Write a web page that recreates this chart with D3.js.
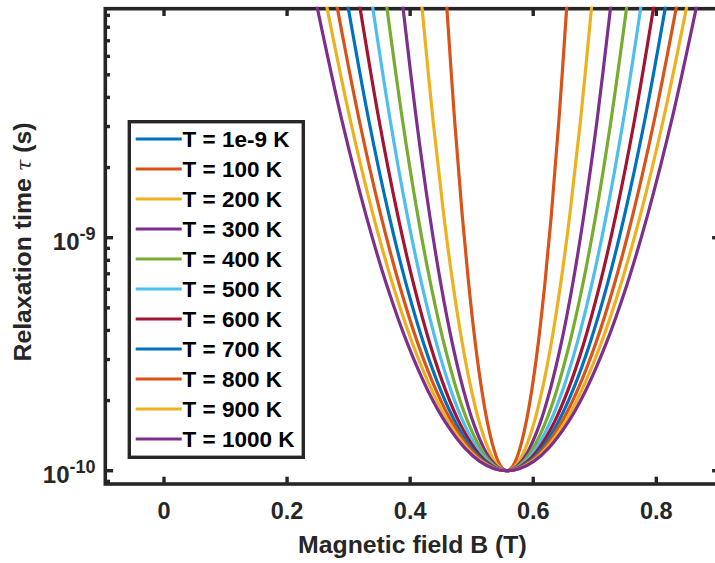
<!DOCTYPE html>
<html>
<head>
<meta charset="utf-8">
<script src="https://cdn.jsdelivr.net/npm/d3@7"></script>
<style>
  html, body { margin: 0; padding: 0; background: #ffffff; }
  svg { display: block; font-family: "Liberation Sans", Arial, Helvetica, sans-serif; }
</style>
</head>
<body>
<svg id="chart" width="715" height="563"></svg>
<script>
// Series: relaxation time vs. magnetic field for several temperatures
const temperatures = [1e-9, 100, 200, 300, 400, 500, 600, 700, 800, 900, 1000];
const legendLabels = ["T = 1e-9 K", "T = 100 K", "T = 200 K", "T = 300 K", "T = 400 K",
  "T = 500 K", "T = 600 K", "T = 700 K", "T = 800 K", "T = 900 K", "T = 1000 K"];
const seriesColors = ["#0072BD", "#D95319", "#EDB120", "#7E2F8E", "#77AC30", "#4DBEEE",
  "#A2142F", "#0072BD", "#D95319", "#EDB120", "#7E2F8E"];

// Field of the minimum (T)
const fieldAtMin = 0.557;
// Relaxation-time levels (s) at which each curve's width is given
const tauLevels = [1.0e-10, 1.02e-10, 1.1e-10, 1.25e-10, 1.6e-10, 2.2e-10,
  3.5e-10, 6.3e-10, 1.25e-9, 3.2e-9, 1.0e-8];
// Half-width of each curve (T) about the minimum, one row per temperature
const branchHalfWidths = [
  [0],
  [0, 0.0064, 0.0141, 0.0215, 0.0312, 0.0404, 0.0510, 0.0618, 0.0724, 0.0848, 0.0977],
  [0, 0.0091, 0.0199, 0.0304, 0.0442, 0.0572, 0.0721, 0.0874, 0.1024, 0.1199, 0.1382],
  [0, 0.0111, 0.0243, 0.0372, 0.0541, 0.0700, 0.0883, 0.1070, 0.1253, 0.1468, 0.1692],
  [0, 0.0128, 0.0281, 0.0430, 0.0624, 0.0809, 0.1019, 0.1235, 0.1447, 0.1695, 0.1954],
  [0, 0.0143, 0.0314, 0.0481, 0.0698, 0.0904, 0.1140, 0.1381, 0.1618, 0.1895, 0.2185],
  [0, 0.0157, 0.0344, 0.0527, 0.0765, 0.0990, 0.1248, 0.1513, 0.1772, 0.2076, 0.2393],
  [0, 0.0170, 0.0372, 0.0569, 0.0826, 0.1070, 0.1348, 0.1634, 0.1914, 0.2243, 0.2585],
  [0, 0.0181, 0.0398, 0.0608, 0.0883, 0.1144, 0.1442, 0.1747, 0.2047, 0.2398, 0.2764],
  [0, 0.0192, 0.0422, 0.0645, 0.0936, 0.1213, 0.1529, 0.1853, 0.2171, 0.2543, 0.2931],
  [0, 0.0203, 0.0445, 0.0680, 0.0987, 0.1279, 0.1612, 0.1954, 0.2288, 0.2681, 0.3090]
];

// Axes limits and ticks
const xLimits = [-0.0954, 0.9027];
const yLimits = [8.77e-11, 9.61e-9];
const xTicks = [0, 0.2, 0.4, 0.6, 0.8];
const xTickLabels = ["0", "0.2", "0.4", "0.6", "0.8"];
const yMajorTicks = [1e-10, 1e-9];
const yTickExponents = ["-10", "-9"];

const axisColor = "#262626";
const plot = { left: 105.3, right: 719.5, top: 8.7, bottom: 484 };

const svg = d3.select("#chart");
svg.append("rect").attr("width", 715).attr("height", 563).attr("fill", "#ffffff");

const x = d3.scaleLinear().domain(xLimits).range([plot.left, plot.right]);
const y = d3.scaleLog().domain(yLimits).range([plot.bottom, plot.top]);

// ---- Axes box and ticks ----
const axes = svg.append("g");
const minorTicks = [];
[1e-11, 1e-10, 1e-9].forEach(dec => {
  for (let k = 2; k <= 9; k++) {
    const v = k * dec;
    if (v > yLimits[0] && v < yLimits[1]) minorTicks.push(v);
  }
});

const tickGroups = [
  { vals: yMajorTicks, len: 7.4 },
  { vals: minorTicks, len: 4.3 }
];
tickGroups.forEach(g => {
  g.vals.forEach(v => {
    axes.append("line").attr("x1", plot.left).attr("x2", plot.left + g.len + 0.4)
      .attr("y1", y(v)).attr("y2", y(v));
    axes.append("line").attr("x1", plot.right).attr("x2", plot.right - g.len)
      .attr("y1", y(v)).attr("y2", y(v));
  });
});
xTicks.forEach(v => {
  axes.append("line").attr("x1", x(v)).attr("x2", x(v))
    .attr("y1", plot.bottom).attr("y2", plot.bottom - 7.3);
  axes.append("line").attr("x1", x(v)).attr("x2", x(v))
    .attr("y1", plot.top).attr("y2", plot.top + 7.3);
});
axes.selectAll("line").attr("stroke", axisColor).attr("stroke-width", 3.4);

axes.append("rect")
  .attr("x", plot.left).attr("y", plot.top)
  .attr("width", plot.right - plot.left).attr("height", plot.bottom - plot.top)
  .attr("fill", "none").attr("stroke", axisColor).attr("stroke-width", 3.6);

// Tick labels
const xLabelG = svg.append("g");
xTicks.forEach((v, i) => {
  xLabelG.append("text")
    .attr("x", x(v)).attr("y", 518.5)
    .attr("text-anchor", "middle")
    .attr("font-size", 23.5).attr("font-weight", "bold").attr("fill", axisColor)
    .text(xTickLabels[i]);
});
yMajorTicks.forEach((v, i) => {
  const t = svg.append("text")
    .attr("x", 95.5).attr("y", y(v) + 12.5)
    .attr("text-anchor", "end")
    .attr("font-weight", "bold").attr("fill", axisColor);
  t.append("tspan").attr("font-size", 24).text("10");
  t.append("tspan").attr("font-size", 18).attr("dy", -10.5).text(yTickExponents[i]);
});

// Axis titles
svg.append("text")
  .attr("x", (plot.left + plot.right) / 2).attr("y", 552.5)
  .attr("text-anchor", "middle")
  .attr("font-size", 24.8).attr("font-weight", "bold").attr("fill", axisColor)
  .text("Magnetic field B (T)");

const yTitle = svg.append("text")
  .attr("transform", "translate(31,242) rotate(-90)")
  .attr("text-anchor", "middle")
  .attr("font-size", 24.8).attr("font-weight", "bold").attr("fill", axisColor);
yTitle.append("tspan").text("Relaxation time ");
yTitle.append("tspan").attr("font-style", "italic").attr("font-weight", "normal")
  .attr("font-family", "'DejaVu Serif', serif").attr("font-size", 21).text("τ");
yTitle.append("tspan").text(" (s)");

// ---- Curves ----
svg.append("clipPath").attr("id", "plotClip")
  .append("rect")
  .attr("x", plot.left).attr("y", plot.top - 2)
  .attr("width", plot.right - plot.left).attr("height", plot.bottom - plot.top + 2);

const line = d3.line()
  .x(d => x(d[0]))
  .y(d => y(d[1]))
  .curve(d3.curveCatmullRom.alpha(0.5));

const curveG = svg.append("g").attr("clip-path", "url(#plotClip)");
temperatures.forEach((T, i) => {
  const hw = branchHalfWidths[i];
  const pts = [];
  for (let j = hw.length - 1; j >= 1; j--) pts.push([fieldAtMin - hw[j], tauLevels[j]]);
  pts.push([fieldAtMin, tauLevels[0]]);
  for (let j = 1; j < hw.length; j++) pts.push([fieldAtMin + hw[j], tauLevels[j]]);
  curveG.append("path")
    .attr("d", line(pts))
    .attr("fill", "none")
    .attr("stroke", seriesColors[i])
    .attr("stroke-width", 3.2)
    .attr("stroke-linejoin", "round");
});

// ---- Legend ----
const legend = { left: 129.3, top: 121.7, right: 303.3, bottom: 457.3, firstRow: 139, rowStep: 30 };
const lg = svg.append("g");
lg.append("rect")
  .attr("x", legend.left).attr("y", legend.top)
  .attr("width", legend.right - legend.left).attr("height", legend.bottom - legend.top)
  .attr("fill", "#ffffff").attr("stroke", axisColor).attr("stroke-width", 3.4);
legendLabels.forEach((lab, i) => {
  const cy = legend.firstRow + i * legend.rowStep;
  lg.append("line")
    .attr("x1", 135.7).attr("x2", 181.7).attr("y1", cy).attr("y2", cy)
    .attr("stroke", seriesColors[i]).attr("stroke-width", 3.2);
  lg.append("text")
    .attr("x", 182.5).attr("y", cy + 8)
    .attr("font-size", 22.5).attr("font-weight", "bold").attr("fill", "#000000")
    .text(lab);
});
</script>
</body>
</html>
